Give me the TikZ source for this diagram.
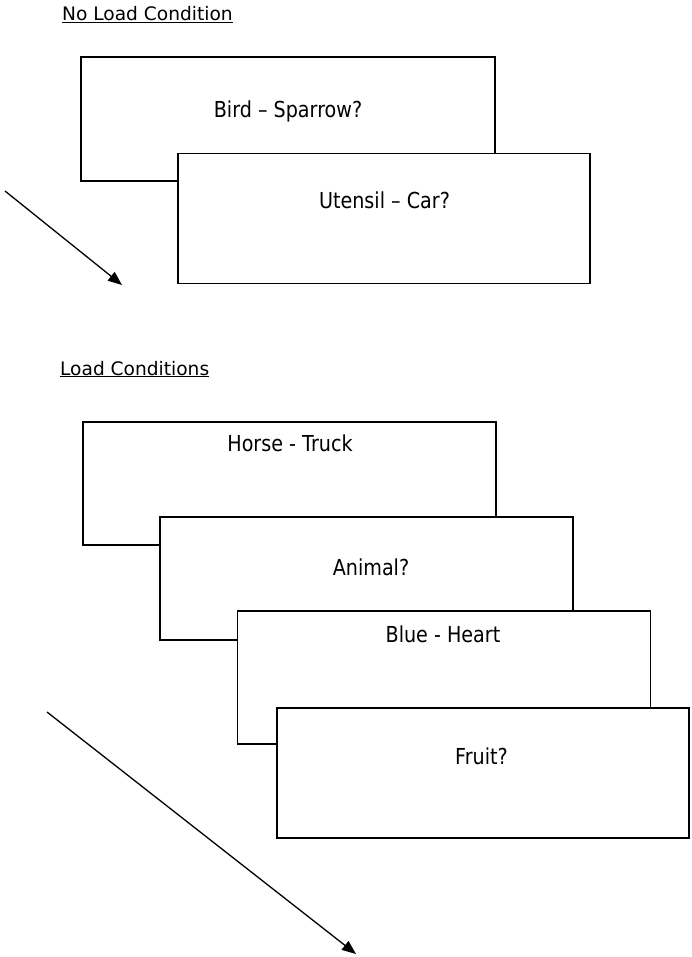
\documentclass[tikz,border=0pt]{standalone}
\usepackage{fontspec}
\setmainfont{DejaVu Sans}
\newfontfamily\cardfont[FakeStretch=0.87]{DejaVu Sans}
\usetikzlibrary{arrows.meta}
\begin{document}
\begin{tikzpicture}[x=1pt,y=-1pt,
  card/.style={draw=black,fill=white,line width=1.6pt,inner sep=0pt},
  cardtext/.style={font=\cardfont\fontsize{22}{26}\selectfont,inner sep=0pt,anchor=base},
  heading/.style={font=\fontsize{18.6}{22}\selectfont,inner sep=0pt,anchor=base west},
  arr/.style={line width=1.3pt,-{Triangle[length=14pt,width=11pt]}}]
\useasboundingbox (0,0) rectangle (692,957);
\fill[white] (0,0) rectangle (692,957);

% --- no load condition ---
\node[heading] (h1) at (62,21) {\underline{No Load Condition}};
\node[card,minimum width=414pt,minimum height=124pt] (b1) at (288,119) {};
\node[cardtext] (t1) at (288,118) {Bird – Sparrow?};
\node[card,minimum width=412pt,minimum height=130pt] (b2) at (384,218.5) {};
\node[cardtext] (t2) at (384.5,209) {Utensil – Car?};
\coordinate (a1s) at (5,191);
\coordinate (a1e) at (122,285);
\draw[arr] (a1s) -- (a1e);

% --- load conditions ---
\node[heading] (h2) at (60,375) {\underline{Load Conditions}};
\node[card,minimum width=413pt,minimum height=123pt] (b3) at (289.5,483.5) {};
\node[cardtext] (t3) at (290,451) {Horse - Truck};
\node[card,minimum width=413pt,minimum height=123pt] (b4) at (366.5,578.5) {};
\node[cardtext] (t4) at (371,575) {Animal?};
\node[card,minimum width=413pt,minimum height=133pt] (b5) at (444,677.5) {};
\node[cardtext] (t5) at (443,642) {Blue - Heart};
\node[card,minimum width=412pt,minimum height=130pt] (b6) at (483,773) {};
\node[cardtext] (t6) at (481.5,764) {Fruit?};
\coordinate (a2s) at (47,712);
\coordinate (a2e) at (356,954);
\draw[arr] (a2s) -- (a2e);
\end{tikzpicture}
\end{document}
